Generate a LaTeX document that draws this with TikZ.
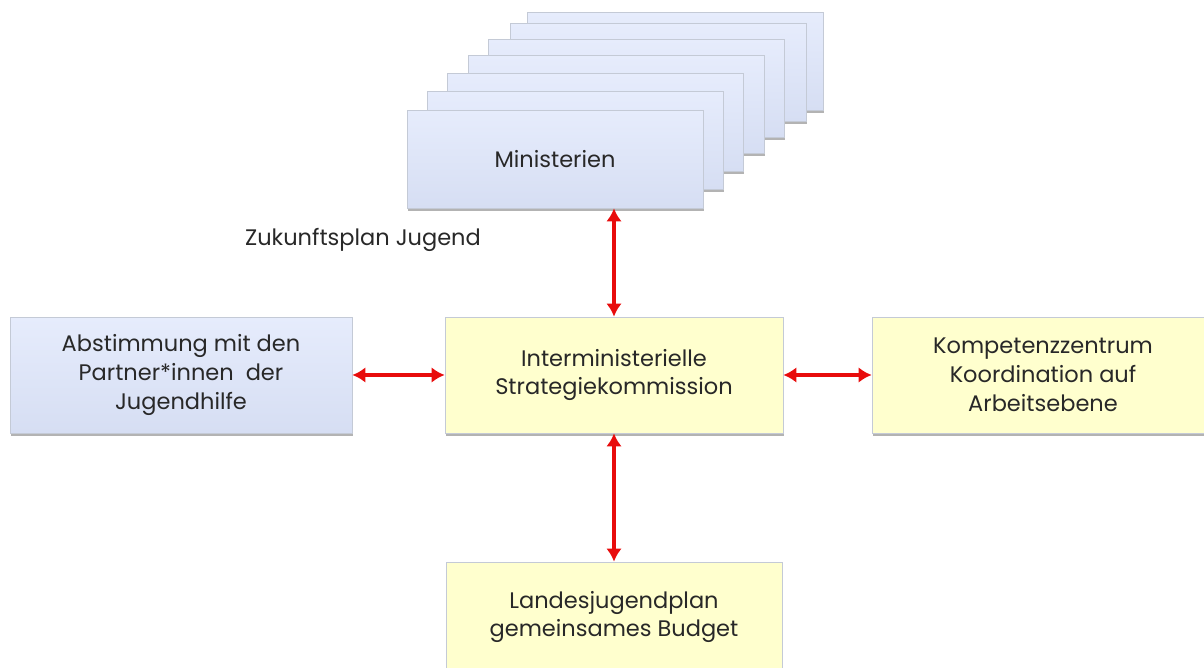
\documentclass[tikz,border=0pt]{standalone}
\usepackage{fontspec}
\setmainfont{Poppins}
\usetikzlibrary{arrows.meta, positioning, calc, shadows}

\definecolor{boxblueT}{RGB}{230,236,252}
\definecolor{boxblueB}{RGB}{214,222,243}
\definecolor{boxyellow}{RGB}{255,255,206}
\definecolor{boxline}{RGB}{196,202,214}
\definecolor{txtgray}{RGB}{40,40,40}
\definecolor{arrred}{RGB}{232,12,12}

\begin{document}
\begin{tikzpicture}[
    x=0.02cm, y=-0.02cm,
    font=\fontsize{12.8}{16.4}\selectfont, text=txtgray,
    % Box looks
    shade/.style={drop shadow={shadow xshift=0.6pt, shadow yshift=-1.5pt, fill=black!50, opacity=0.6}},
    mbox/.style={draw=boxline, thin, top color=boxblueT, bottom color=boxblueB, minimum width=5.92cm, minimum height=1.96cm, shade, align=center},
    bluebox/.style={draw=boxline, thin, top color=boxblueT, bottom color=boxblueB, minimum width=6.84cm, minimum height=2.32cm, shade, align=center},
    yelbox/.style={draw=boxline, thin, fill=boxyellow, minimum width=6.76cm, minimum height=2.32cm, shade, align=center},
    % Connectors
    link/.style={draw=arrred, line width=1.8pt, {Latex[length=2.6mm,width=3.1mm]}-{Latex[length=2.6mm,width=3.1mm]}}
]
\useasboundingbox (0,0) rectangle (1204,668);
\clip (0,0) rectangle (1204,668);

% ===============================
% Ministries (stack)
% ===============================
\foreach \dx/\dy in {120/98, 103/87, 81/71, 61/55, 40/37, 20/19}
    \node[mbox] (mback) at (555+\dx, 159-\dy) {};
\node[mbox] (mini) at (555, 159) {Ministerien};

\node[anchor=center] (plan) at (363, 240) {Zukunftsplan Jugend};

% ===============================
% Commission and partners
% ===============================
\node[yelbox] (ism) at (614, 375) {Interministerielle\\Strategiekommission};
\node[bluebox] (partner) at (181, 375) {Abstimmung mit den\\Partner*innen\ \ der\\Jugendhilfe};
\node[yelbox, minimum width=6.84cm] (komp) at (1043, 375) {Kompetenzzentrum\\Koordination auf\\Arbeitsebene};
\node[yelbox, minimum width=6.72cm, minimum height=2.2cm] (budget) at (614, 617) {Landesjugendplan\\gemeinsames Budget};

% Links
\draw[link] (ism.north |- mini.south) -- (ism.north);
\draw[link] (partner.east) -- (ism.west);
\draw[link] (ism.east) -- (komp.west);
\draw[link] (ism.south) -- (budget.north);

\end{tikzpicture}
\end{document}
